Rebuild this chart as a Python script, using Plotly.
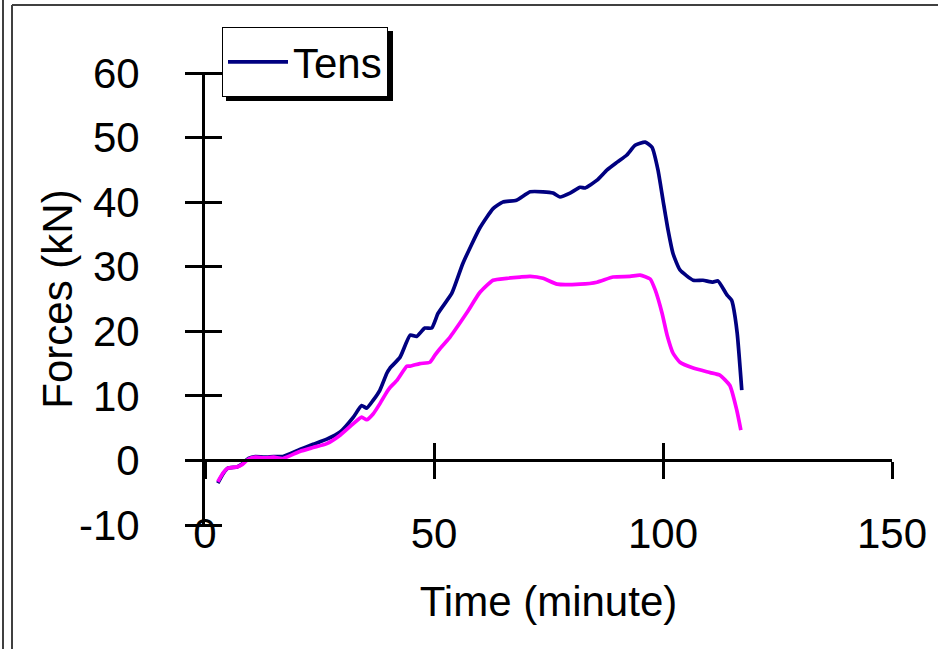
import plotly.graph_objects as go

# Time (minute) and forces (kN)
tens_t = [2.8, 4.0, 5.0, 7.0, 8.0, 9.5, 11.0, 13.0, 15.0, 17.0, 20.7, 23.6, 26.6, 29.5,
          32.4, 34.2, 35.3, 36.7, 38.2, 39.7, 40.4, 42.6, 44.8, 46.2, 48.0, 49.5, 50.9,
          53.9, 56.3, 60.0, 62.9, 65.0, 68.0, 71.0, 73.8, 76.0, 77.5, 79.7, 81.9, 83.0,
          85.6, 87.8, 90.0, 92.1, 93.9, 96.1, 97.6, 98.9, 100.0, 101.1, 102.2, 103.7,
          106.6, 108.7, 110.9, 112.0, 114.0, 115.0, 115.3, 116.2, 117.2]
tens_f = [-3.5, -2.0, -1.2, -1.0, -0.6, 0.3, 0.6, 0.5, 0.6, 0.6, 1.7, 2.5, 3.3, 4.4,
          6.7, 8.5, 8.1, 9.3, 10.9, 13.5, 14.3, 16.0, 19.4, 19.2, 20.5, 20.5, 22.8,
          25.9, 30.5, 36.0, 39.0, 40.0, 40.3, 41.6, 41.6, 41.4, 40.8, 41.4, 42.3, 42.2,
          43.4, 45.0, 46.2, 47.3, 48.8, 49.3, 48.5, 45.0, 40.3, 35.7, 32.0, 29.5,
          27.9, 27.9, 27.6, 27.8, 25.6, 24.8, 24.0, 19.7, 10.9]

comp_t = [2.8, 4.0, 5.0, 7.0, 8.0, 9.5, 11.0, 13.0, 15.0, 17.0, 20.7, 23.6, 26.6, 29.5,
          32.4, 34.2, 35.3, 36.7, 38.2, 39.7, 40.4, 41.9, 44.1, 44.8, 46.9, 49.1, 50.2,
          51.3, 53.5, 54.1, 57.2, 60.0, 62.9, 65.9, 68.8, 71.0, 73.8, 76.9, 81.9, 85.6,
          89.1, 92.8, 95.0, 97.2, 98.3, 99.8, 100.9, 102.2, 103.7, 106.6, 110.3, 112.4,
          114.6, 116.1, 117.0]
comp_f = [-3.3, -1.9, -1.2, -1.0, -0.7, 0.2, 0.5, 0.4, 0.5, 0.3, 1.4, 2.0, 2.6, 3.9,
          5.7, 6.7, 6.3, 7.2, 8.8, 10.6, 11.3, 12.4, 14.6, 14.6, 15.0, 15.2, 16.3,
          17.3, 19.1, 19.7, 22.9, 26.0, 27.9, 28.2, 28.4, 28.5, 28.2, 27.3, 27.3, 27.6,
          28.4, 28.5, 28.7, 28.1, 26.4, 22.8, 19.4, 16.6, 15.2, 14.3, 13.6, 13.2,
          11.6, 7.8, 4.7]

x_ticks = [0, 50, 100, 150]
y_ticks = [-10, 0, 10, 20, 30, 40, 50, 60]
y_tick_text = ["-10", "0", "10", "20", "30", "40", "50", "60"]

FONT = "Liberation Sans, Arial, sans-serif"
FS = 42

fig = go.Figure()
fig.add_trace(go.Scatter(x=tens_t, y=tens_f, mode="lines", name="Tens",
                         line=dict(color="#000080", width=3.7, shape="spline", smoothing=0.5)))
fig.add_trace(go.Scatter(x=comp_t, y=comp_f, mode="lines", name="Comp", showlegend=False,
                         line=dict(color="#FF00FF", width=3.7, shape="spline", smoothing=0.5)))
# invisible carriers so that the overlaid axes (line at y=0, crossing ticks) get drawn
for xa, ya in (("x2", "y"), ("x3", "y"), ("x", "y2")):
    fig.add_trace(go.Scatter(x=tens_t, y=tens_f, mode="lines", xaxis=xa, yaxis=ya,
                             showlegend=False, hoverinfo="skip", opacity=0,
                             line=dict(width=0)))

W, H = 938, 649
L, R, T, B = 205, 46, 73, 124
pw, ph = W - L - R, H - T - B
TL = 17  # half length of the crossing tick marks

def px(x):
    return (x - L) / pw

def py(y):
    return (H - B - y) / ph

axis_common = dict(range=[0, 150], tickvals=x_ticks, showgrid=False, zeroline=False,
                   automargin=False)
yaxis_common = dict(range=[-10, 60], tickvals=y_ticks, showgrid=False, zeroline=False,
                    automargin=False)

fig.update_layout(
    width=W, height=H,
    margin=dict(l=L, r=R, t=T, b=B, autoexpand=False),
    paper_bgcolor="white", plot_bgcolor="white",
    font=dict(family=FONT, size=FS, color="black"),
    showlegend=True,
    legend=dict(x=px(222), y=py(27), xanchor="left", yanchor="top",
                bgcolor="white", bordercolor="black", borderwidth=1, itemwidth=60,
                font=dict(size=42, family=FONT)),
    xaxis=dict(**axis_common, anchor="y", side="bottom", showline=False, ticks="",
               showticklabels=True, ticklabelstandoff=-20,
               title=dict(text="Time (minute)", standoff=30, font=dict(size=FS))),
    xaxis2=dict(**axis_common, overlaying="x", anchor="free", position=10 / 70,
                showline=True, linecolor="black", linewidth=3,
                ticks="outside", ticklen=TL, tickwidth=3, tickcolor="black",
                showticklabels=False),
    xaxis3=dict(**axis_common, overlaying="x", anchor="free", position=10 / 70,
                showline=False, ticks="inside", ticklen=TL, tickwidth=3,
                tickcolor="black", showticklabels=False),
    yaxis=dict(**yaxis_common, ticktext=y_tick_text, anchor="x", side="left",
               showline=True, linecolor="black",
               linewidth=3, ticks="outside", ticklen=TL, tickwidth=3, tickcolor="black",
               ticklabelstandoff=37),
    yaxis2=dict(**yaxis_common, overlaying="y", anchor="free", position=TL / pw, side="left",
                showline=False, ticks="outside", ticklen=2 * TL, tickwidth=3,
                tickcolor="black", showticklabels=False,
                title=dict(text="Forces (kN)", standoff=101, font=dict(size=FS))),
)

# legend shadow and outer frame (decoration)
shapes = [
    dict(type="rect", xref="paper", yref="paper", x0=px(226), x1=px(393), y0=py(101), y1=py(31),
         fillcolor="black", line=dict(width=0), layer="above"),
    dict(type="line", xref="paper", yref="paper", x0=px(3), x1=px(3), y0=py(0), y1=py(649),
         line=dict(color="#404040", width=2)),
    dict(type="line", xref="paper", yref="paper", x0=px(12), x1=px(12), y0=py(5), y1=py(649),
         line=dict(color="#404040", width=2)),
    dict(type="line", xref="paper", yref="paper", x0=px(12), x1=px(938), y0=py(5), y1=py(5),
         line=dict(color="#404040", width=2)),
]
fig.update_layout(shapes=shapes)

fig.write_html("out.html", config={"displayModeBar": False},
               post_script="document.body.style.margin='0';document.body.style.padding='0';")
